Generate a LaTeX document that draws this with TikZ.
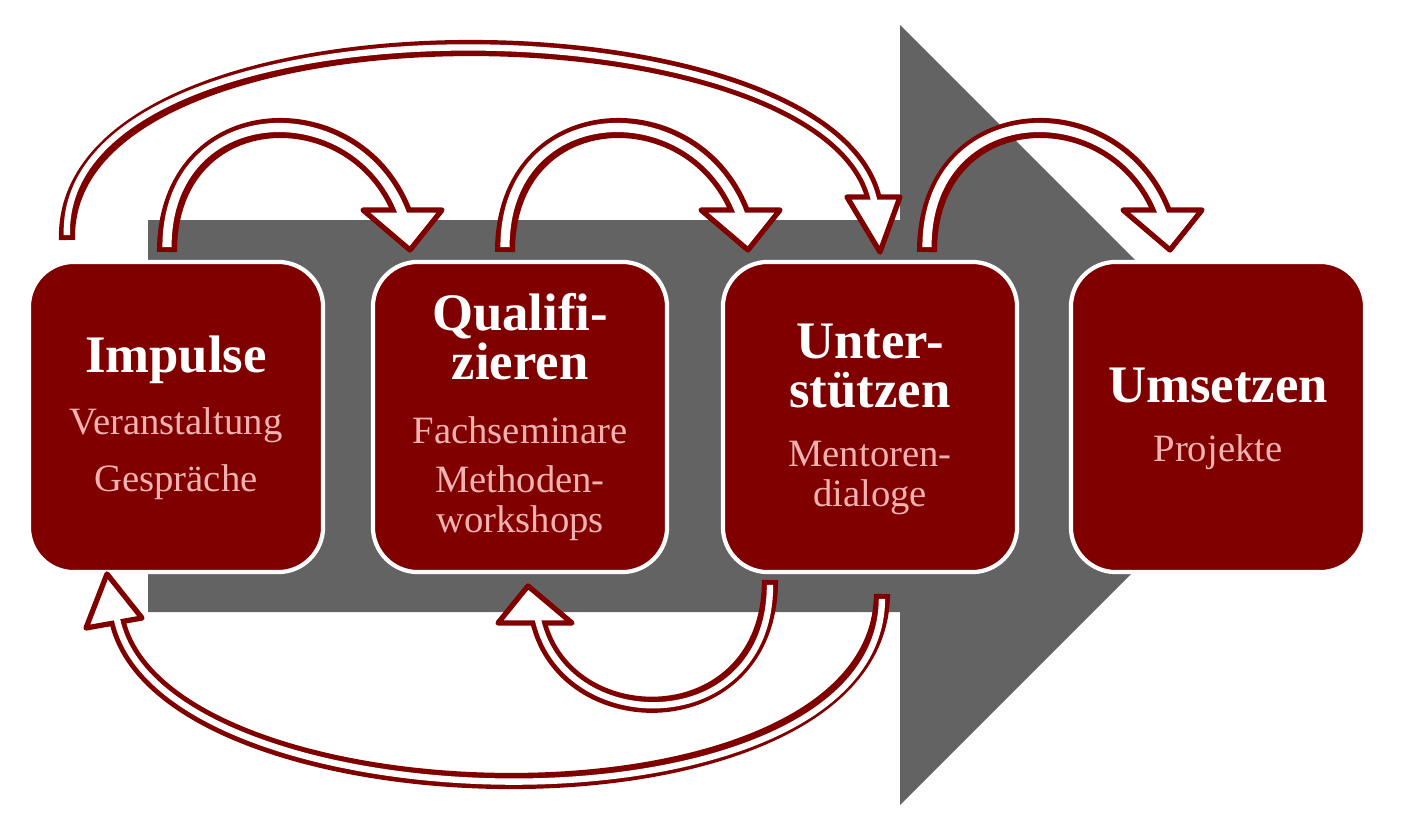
\documentclass[tikz,border=0pt]{standalone}
\usepackage{fontspec}
\setmainfont{Liberation Serif}
\begin{document}
\begin{tikzpicture}[x=0.01cm,y=-0.01cm,
  dr/.style={draw=red!50!black},
  box/.style={draw=white,line width=1.2pt,fill=drcol,rounded corners=0.45cm,minimum width=2.94cm,minimum height=3.1cm,inner sep=0pt},
  ttl/.style={text=white,font=\bfseries\fontsize{15}{14}\selectfont,align=center},
  sub/.style={text=subcol,font=\fontsize{11}{11.5}\selectfont,align=center},
  shaftO/.style={draw=drcol,line width=5.7pt},
  shaftI/.style={draw=white,line width=2.6pt,shorten <=1.4pt},
  shaftOs/.style={draw=drcol,line width=4.6pt},
  shaftIs/.style={draw=white,line width=1.8pt,shorten <=1.4pt},
  headst/.style={draw=drcol,fill=white,line width=1.5pt,line join=round}]
\definecolor{drcol}{RGB}{128,0,0}
\definecolor{subcol}{RGB}{242,178,178}
\definecolor{gry}{RGB}{99,99,99}
\useasboundingbox (0,0) rectangle (1420,839);
\fill[white] (0,0) rectangle (1420,839);
% grey process arrow
\fill[gry] (148,220) -- (900,220) -- (900,25) -- (1290,415) -- (900,805) -- (900,612) -- (148,612) -- cycle;
% boxes
\node[box] (b1) at (176,417) {};
\node[box] (b2) at (520,417) {};
\node[box] (b3) at (870,417) {};
\node[box] (b4) at (1218,417) {};
\node[ttl] at (176,360) {Impulse};
\node[sub] at (176,425) {Veranstaltung};
\node[sub] at (176,482) {Gespräche};
\node[ttl] at (520,337) {Qualifi-\\zieren};
\node[sub] at (520,430) {Fachseminare};
\node[sub] at (520,503) {Methoden-\\workshops};
\node[ttl] at (870,366) {Unter-\\stützen};
\node[sub] at (870,478) {Mentoren-\\dialoge};
\node[ttl] at (1218,385) {Umsetzen};
\node[sub] at (1218,452) {Projekte};
% small top arrows
\foreach \s in {0,338,760}{
 \begin{scope}[xshift=\s*0.01cm]
  \coordinate (s) at (167,252); \coordinate (e) at (404,218);
  \draw[shaftO] (s) .. controls (167,96) and (360,90) .. (e);
  \draw[headst] (363,210) -- (442,210) -- (410,250) -- cycle;
  \draw[shaftI] (s) .. controls (167,96) and (360,90) .. (e);
 \end{scope}}
% big top arrow
\coordinate (s4) at (67,240); \coordinate (e4) at (875,205);
\draw[shaftOs] (s4) .. controls (60,-15) and (840,-5) .. (e4);
\draw[headst] (847,197) -- (900,197) -- (880,252) -- cycle;
\draw[shaftIs] (s4) .. controls (60,-15) and (840,-5) .. (e4);
% small bottom arrow
\coordinate (s5) at (770,580); \coordinate (e5) at (537,615);
\draw[shaftOs] (s5) .. controls (770,740) and (560,740) .. (e5);
\draw[headst] (498,623) -- (572,623) -- (528,586) -- cycle;
\draw[shaftIs] (s5) .. controls (770,740) and (560,740) .. (e5);
% big bottom arrow
\coordinate (s6) at (882,594); \coordinate (e6) at (116,614);
\draw[shaftOs] (s6) .. controls (880,850) and (150,830) .. (e6);
\draw[headst] (86,628) -- (142,618) -- (107,574) -- cycle;
\draw[shaftIs] (s6) .. controls (880,850) and (150,830) .. (e6);
\end{tikzpicture}
\end{document}
